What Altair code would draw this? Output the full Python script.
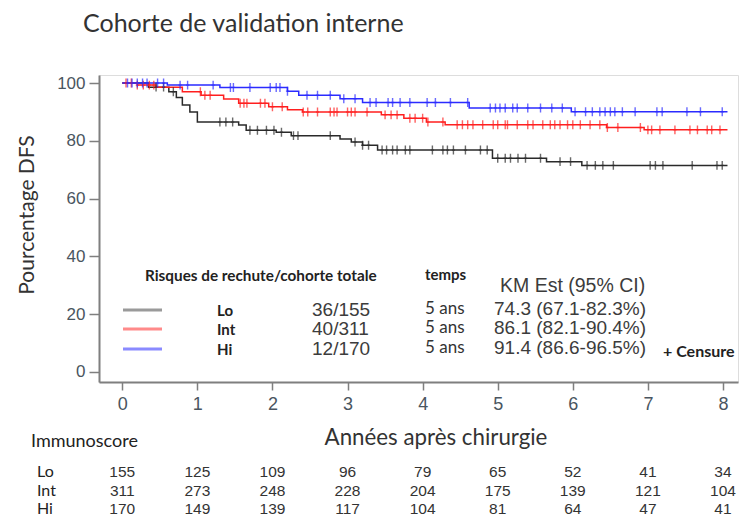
import altair as alt
import pandas as pd

# ---------------- data ----------------
groups = ["Lo", "Int", "Hi"]
colors = ["#2a2a2a", "#ff1f1f", "#2b2bff"]
legend_colors = ["#9a9a9a", "#ff8a8a", "#8a8aff"]

lo_t = [0, 0.35, 0.62, 0.72, 0.8, 0.9, 1.0, 1.55, 1.65, 2.05, 2.25, 2.9, 3.05, 3.2, 3.4, 4.93, 5.65, 6.12, 8.06]
lo_s = [100, 98.6, 97, 95, 92.4, 90, 86.5, 85.5, 83.7, 83, 81.8, 80.6, 79.6, 78.5, 76.8, 74.0, 72.8, 71.5, 71.5]
int_t = [0, 0.2, 0.45, 0.8, 1.05, 1.35, 1.55, 1.95, 2.2, 2.4, 3.45, 3.75, 4.05, 4.3, 6.45, 6.95, 8.06]
int_s = [100, 99.3, 98.6, 97, 95.8, 94.5, 93, 91.8, 90.8, 90, 89, 87.8, 86.5, 85.6, 84.6, 83.8, 83.8]
hi_t = [0, 0.6, 1.3, 2.2, 2.35, 2.9, 3.2, 4.62, 5.98, 8.06]
hi_s = [100, 99.3, 98.5, 97.2, 95.8, 94.6, 93.3, 91.4, 90.1, 90.1]

lo_c = [0.45, 0.55, 0.68, 1.3, 1.38, 1.47, 1.7, 1.8, 1.92, 2.02, 2.12, 2.28, 2.34, 2.77,
        3.1, 3.2, 3.28, 3.46, 3.52, 3.6, 3.66, 3.77, 3.83, 4.13, 4.27, 4.33, 4.41, 4.57,
        4.77, 4.86, 5.0, 5.1, 5.17, 5.27, 5.37, 5.57, 5.83, 5.97, 6.19, 6.3, 6.4, 6.54,
        7.03, 7.1, 7.2, 7.59, 7.92, 7.99]
int_c = [0.05, 0.12, 0.2, 0.28, 0.36, 0.42, 1.04, 1.1, 1.17, 1.57, 1.62, 1.66, 1.84, 1.9,
         2.0, 2.13, 2.41, 2.47, 2.6, 2.77, 2.82, 2.86, 3.0, 3.05, 3.1, 3.26, 3.5, 3.58,
         3.66, 3.83, 3.9, 4.0, 4.07, 4.27, 4.46, 4.53, 4.6, 4.67, 4.8, 4.94, 5.0, 5.1,
         5.13, 5.26, 5.4, 5.47, 5.6, 5.7, 5.76, 5.83, 5.93, 6.0, 6.1, 6.23, 6.36, 6.46,
         6.6, 6.9, 7.0, 7.05, 7.16, 7.36, 7.56, 7.66, 7.79, 7.85, 7.96]
hi_c = [0.07, 0.13, 0.2, 0.27, 0.33, 0.47, 0.55, 0.77, 0.87, 1.21, 1.44, 1.48, 1.7, 1.97,
        2.05, 2.1, 2.2, 2.46, 2.6, 2.77, 2.95, 3.1, 3.3, 3.38, 3.54, 3.6, 3.7, 3.83, 4.06,
        4.17, 4.37, 4.6, 4.9, 4.97, 5.03, 5.1, 5.2, 5.26, 5.4, 5.57, 5.72, 5.86, 6.03,
        6.17, 6.26, 6.36, 6.43, 6.5, 6.56, 6.66, 6.83, 7.12, 7.19, 7.52, 7.7, 7.99]

years = [0, 1, 2, 3, 4, 5, 6, 7, 8]
lo_n = [155, 125, 109, 96, 79, 65, 52, 41, 34]
int_n = [311, 273, 248, 228, 204, 175, 139, 121, 104]
hi_n = [170, 149, 139, 117, 104, 81, 64, 47, 41]

events = ["36/155", "40/311", "12/170"]
km_est = ["74.3 (67.1-82.3%)", "86.1 (82.1-90.4%)", "91.4 (86.6-96.5%)"]

# ---------------- tables ----------------
curves = {"Lo": (lo_t, lo_s), "Int": (int_t, int_s), "Hi": (hi_t, hi_s)}
censors = {"Lo": lo_c, "Int": int_c, "Hi": hi_c}
counts = {"Lo": lo_n, "Int": int_n, "Hi": hi_n}

line_rows, cens_rows, risk_rows = [], [], []
for g in groups:
    ts, ss = curves[g]
    for t, s in zip(ts, ss):
        line_rows.append({"t": t, "s": s, "g": g})
    for c in censors[g]:
        v = ss[0]
        for t, s in zip(ts, ss):
            if t <= c:
                v = s
        cens_rows.append({"t": c, "s": v, "g": g})
    for y, n in zip(years, counts[g]):
        risk_rows.append({"t": y, "n": str(n), "g": g})

lines_df = pd.DataFrame(line_rows)
cens_df = pd.DataFrame(cens_rows)
risk_df = pd.DataFrame(risk_rows)

# ---------------- styling ----------------
OX, OY = 99, 75          # page position of plot origin
W, H = 639, 307
CAL = "Lato"
ARI = "'Liberation Sans', Arial, sans-serif"

xscale = alt.Scale(domain=[-0.31, 8.2], nice=False, zero=False)
yscale = alt.Scale(domain=[-3.5, 102.8], nice=False, zero=False)
cscale = alt.Scale(domain=groups, range=colors)

axis_common = dict(grid=False, domainColor="#7f7f7f", domainWidth=2, tickColor="#7f7f7f",
                   tickWidth=1.5, labelFont=ARI, labelColor="#4a5560", title=None)

lines = alt.Chart(lines_df).mark_line(interpolate="step-after", strokeWidth=1.5).encode(
    x=alt.X("t:Q", scale=xscale,
            axis=alt.Axis(values=years, format="d", tickSize=8, labelPadding=5,
                          labelFontSize=18, **axis_common)),
    y=alt.Y("s:Q", scale=yscale,
            axis=alt.Axis(values=[0, 20, 40, 60, 80, 100], tickSize=10, labelPadding=4,
                          labelFontSize=17, **axis_common)),
    color=alt.Color("g:N", scale=cscale, legend=None),
    detail="g:N",
)

cens = alt.Chart(cens_df).mark_point(
    shape="M0,-1L0,1M-0.35,0L0.35,0", size=80, filled=False, strokeWidth=1.4
).encode(
    x=alt.X("t:Q", scale=xscale),
    y=alt.Y("s:Q", scale=yscale),
    color=alt.Color("g:N", scale=cscale, legend=None),
)

row_y = {"Lo": 472, "Int": 490.5, "Hi": 509}
risk_df["py"] = risk_df["g"].map(lambda g: row_y[g] - OY)
risk = alt.Chart(risk_df).mark_text(font=ARI, fontSize=15.5, color="#333333", baseline="middle").encode(
    x=alt.X("t:Q", scale=xscale),
    y=alt.Y("py:Q", scale=None, axis=None),
    text="n:N",
)


def txt(s, px, py, size, font=CAL, weight="normal", color="#222222", align="left", angle=0):
    return alt.Chart(pd.DataFrame({"s": [s]})).mark_text(
        font=font, fontSize=size, fontWeight=weight, color=color, align=align,
        baseline="middle", angle=angle
    ).encode(x=alt.value(px - OX), y=alt.value(py - OY), text="s:N")


layers = [lines, cens, risk]
layers.append(txt("Cohorte de validation interne", 83, 24, 25, color="#333333"))
layers.append(txt("Pourcentage DFS", 28, 215, 21, color="#333333", align="center", angle=270))
layers.append(txt("Années après chirurgie", 436, 438, 22.3, color="#333333", align="center"))
layers.append(txt("Immunoscore", 31, 442, 18))
layers.append(txt("Risques de rechute/cohorte totale", 145, 276, 15.3, weight="bold"))
layers.append(txt("temps", 425, 275, 15, weight="bold"))
layers.append(txt("KM Est (95% CI)", 500, 286, 19.5, font=ARI, color="#3c3c3c"))
layers.append(txt("+ Censure", 663, 352, 16, weight="bold"))

leg_y = [310, 329, 349]
val_y = [309, 328, 348]
for i, g in enumerate(groups):
    layers.append(txt(g, 37, row_y[g], 16))
    layers.append(alt.Chart(pd.DataFrame({"a": [0]})).mark_rule(
        color=legend_colors[i], strokeWidth=3).encode(
        x=alt.value(123 - OX), x2=alt.value(162 - OX), y=alt.value(leg_y[i] - OY)))
    layers.append(txt(g, 217, leg_y[i] + 1, 15, weight="bold"))
    layers.append(txt(events[i], 312, val_y[i] + 1, 19, font=ARI, color="#3c3c3c"))
    layers.append(txt("5 ans", 425, val_y[i], 17, color="#333333"))
    layers.append(txt(km_est[i], 494, val_y[i], 19, font=ARI, color="#3c3c3c"))

chart = alt.layer(*layers).properties(
    width=W, height=H,
    autosize=alt.AutoSizeParams(type="none"),
    padding={"left": OX - 8, "top": OY - 8, "right": 3, "bottom": 138},
).configure_view(strokeWidth=0).configure(background="white")

chart.save("out.html", embed_options={"renderer": "svg", "actions": False})
